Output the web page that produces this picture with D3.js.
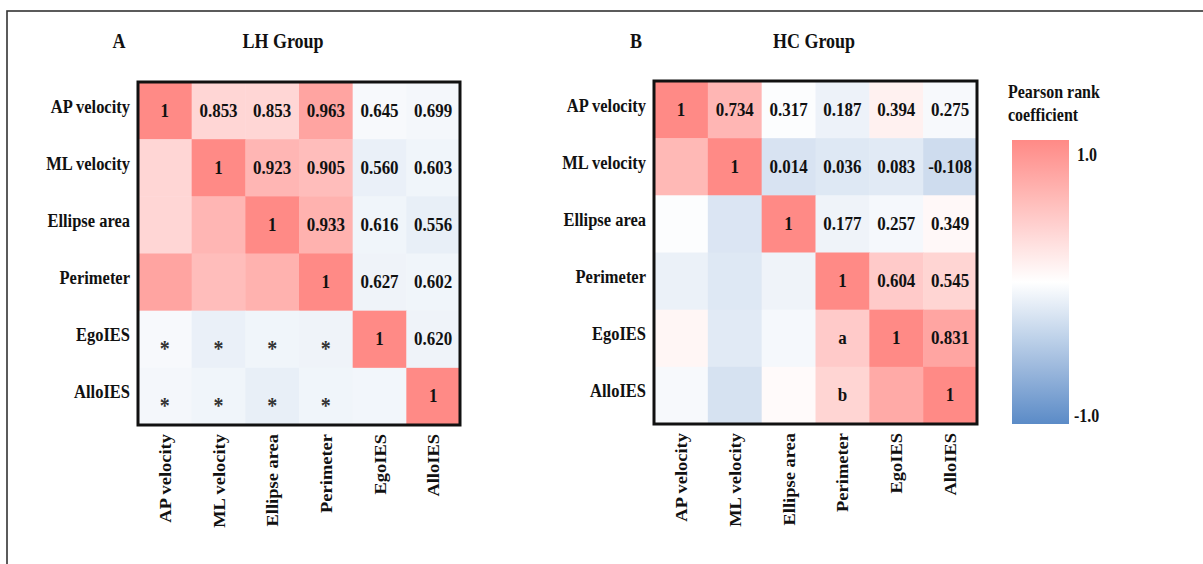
<!DOCTYPE html>
<html>
<head>
<meta charset="utf-8">
<script src="https://cdn.jsdelivr.net/npm/d3@7/dist/d3.min.js"></script>
<style>
  body { margin: 0; background: #fff; }
  text { font-family: "Times New Roman", "Liberation Serif", serif; font-weight: bold; fill: #111; }
</style>
</head>
<body>
<div id="chart"></div>
<script>
// variables shown on both axes
const vars = ["AP velocity", "ML velocity", "Ellipse area", "Perimeter", "EgoIES", "AlloIES"];

// text printed in each cell (LH group)
const lhLabels = [
  ["1", "0.853", "0.853", "0.963", "0.645", "0.699"],
  ["",  "1",     "0.923", "0.905", "0.560", "0.603"],
  ["",  "",      "1",     "0.933", "0.616", "0.556"],
  ["",  "",      "",      "1",     "0.627", "0.602"],
  ["*", "*",     "*",     "*",     "1",     "0.620"],
  ["*", "*",     "*",     "*",     "",      "1"]
];
// cell shade (-1 .. 1)
const lhShade = [
  [1.00, 0.35, 0.35, 0.78, -0.05, -0.07],
  [0.35, 1.00, 0.62, 0.56, -0.13, -0.09],
  [0.35, 0.62, 1.00, 0.66, -0.09, -0.14],
  [0.78, 0.56, 0.66, 1.00, -0.10, -0.09],
  [-0.05, -0.13, -0.09, -0.10, 1.00, -0.10],
  [-0.07, -0.09, -0.14, -0.09, -0.08, 1.00]
];

// HC group
const hcLabels = [
  ["1", "0.734", "0.317", "0.187", "0.394", "0.275"],
  ["",  "1",     "0.014", "0.036", "0.083", "-0.108"],
  ["",  "",      "1",     "0.177", "0.257", "0.349"],
  ["",  "",      "",      "1",     "0.604", "0.545"],
  ["",  "",      "",      "a",     "1",     "0.831"],
  ["",  "",      "",      "b",     "",      "1"]
];
const hcShade = [
  [1.00, 0.62, -0.02, -0.11, 0.12, -0.05],
  [0.60, 1.00, -0.24, -0.20, -0.18, -0.30],
  [-0.02, -0.22, 1.00, -0.10, -0.06, 0.06],
  [-0.12, -0.20, -0.10, 1.00, 0.45, 0.36],
  [0.08, -0.18, -0.06, 0.45, 1.00, 0.77],
  [-0.05, -0.25, 0.04, 0.36, 0.73, 1.00]
];

const legendTicks = [1.0, -1.0];
const legendTickText = ["1.0", "-1.0"];

const W = 1203, H = 564;
const SY = 1.12; // the figure's lettering is a bit taller than wide

const svg = d3.select("#chart").append("svg")
  .attr("width", W).attr("height", H);

// place a text node at x,y with the vertical stretch
const at = (x, y, extra = "") => `translate(${x},${y}) scale(1,${SY})${extra}`;

// outer frame (runs off the right and bottom edge)
svg.append("rect")
  .attr("x", 7).attr("y", 11)
  .attr("width", 1220).attr("height", 620)
  .attr("fill", "none").attr("stroke", "#333").attr("stroke-width", 1.6);

const color = d3.scaleLinear()
  .domain([-1, 0, 1])
  .range(["#5b8bc7", "#ffffff", "#ff8a86"]);

function heatmap(opt) {
  const x = d3.scaleBand().domain(vars).range([opt.x0, opt.x1]);
  const y = d3.scaleBand().domain(vars).range([opt.y0, opt.y1]);
  const g = svg.append("g");

  const cells = [];
  vars.forEach((r, i) => vars.forEach((c, j) => {
    cells.push({row: r, col: c, shade: opt.shade[i][j], label: opt.labels[i][j]});
  }));

  g.selectAll("rect.cell").data(cells).enter().append("rect")
    .attr("class", "cell")
    .attr("x", d => x(d.col)).attr("y", d => y(d.row))
    .attr("width", x.bandwidth() + 0.5).attr("height", y.bandwidth() + 0.5)
    .attr("fill", d => color(d.shade));

  g.selectAll("text.val").data(cells.filter(d => d.label !== "")).enter().append("text")
    .attr("class", "val")
    .attr("transform", d => at(x(d.col) + x.bandwidth() / 2,
                                y(d.row) + y.bandwidth() / 2 + (d.label === "*" ? 17 : 6)))
    .attr("text-anchor", "middle")
    .style("font-size", d => d.label === "*" ? "20px" : "17px")
    .style("fill", d => d.label === "*" ? "#333" : "#111")
    .text(d => d.label);

  // frame round the matrix
  g.append("rect")
    .attr("x", opt.x0).attr("y", opt.y0)
    .attr("width", opt.x1 - opt.x0).attr("height", opt.y1 - opt.y0)
    .attr("fill", "none").attr("stroke", "#111").attr("stroke-width", 3);

  // row labels
  g.selectAll("text.row").data(vars).enter().append("text")
    .attr("class", "row")
    .attr("transform", d => at(opt.x0 - 8, y(d) + y.bandwidth() / 2 + 2))
    .attr("text-anchor", "end")
    .style("font-size", "16.5px")
    .text(d => d);

  // column labels, rotated
  g.selectAll("text.col").data(vars).enter().append("text")
    .attr("class", "col")
    .attr("transform", d => at(x(d) + x.bandwidth() / 2 + 6, opt.y1 + 9, " rotate(-90)"))
    .attr("text-anchor", "end")
    .style("font-size", "16.5px")
    .text(d => d);

  // panel letter and title
  g.append("text").attr("transform", at(opt.letterX, 48))
    .attr("text-anchor", "middle").style("font-size", "18px").text(opt.letter);
  g.append("text").attr("transform", at(opt.titleX, 48))
    .attr("text-anchor", "middle").style("font-size", "18px").text(opt.title);
}

heatmap({x0: 138, x1: 460, y0: 82, y1: 425, labels: lhLabels, shade: lhShade,
         letter: "A", letterX: 119, title: "LH Group", titleX: 283});
heatmap({x0: 654, x1: 977, y0: 81, y1: 424, labels: hcLabels, shade: hcShade,
         letter: "B", letterX: 636, title: "HC Group", titleX: 814});

// colour bar legend
const defs = svg.append("defs");
const grad = defs.append("linearGradient").attr("id", "legGrad")
  .attr("x1", 0).attr("y1", 0).attr("x2", 0).attr("y2", 1);
d3.range(0, 1.0001, 0.1).forEach(t => {
  grad.append("stop").attr("offset", t).attr("stop-color", color(1 - 2 * t));
});

const ly = d3.scaleLinear().domain([1, -1]).range([140, 424]);
svg.append("rect")
  .attr("x", 1012).attr("y", ly(1))
  .attr("width", 57).attr("height", ly(-1) - ly(1))
  .attr("fill", "url(#legGrad)");

svg.selectAll("text.ltick").data(legendTicks).enter().append("text")
  .attr("class", "ltick")
  .attr("transform", d => d > 0 ? at(1077, ly(d) + 21) : at(1074, ly(d) - 2))
  .style("font-size", "16px")
  .text((d, i) => legendTickText[i]);

svg.append("text").attr("transform", at(1008, 98)).style("font-size", "16px").text("Pearson rank");
svg.append("text").attr("transform", at(1008, 121)).style("font-size", "16px").text("coefficient");
</script>
</body>
</html>
